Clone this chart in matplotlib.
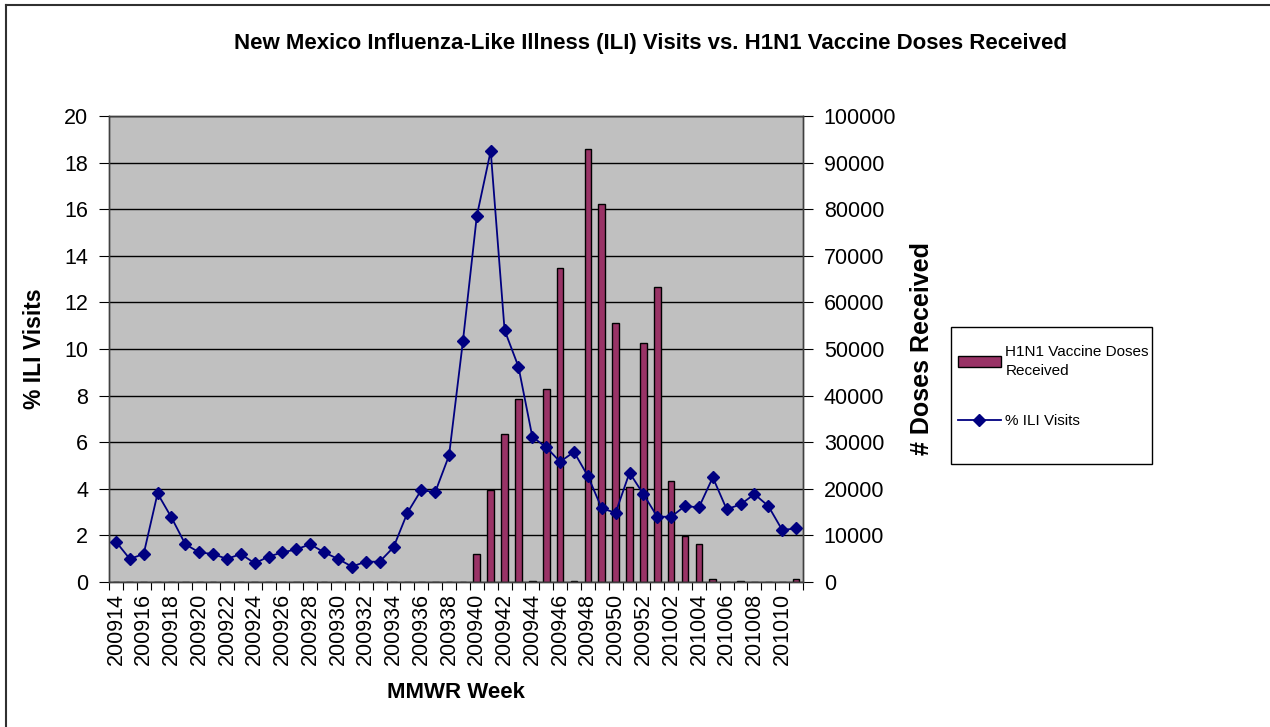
import numpy as np
import matplotlib
matplotlib.use("Agg")
import matplotlib.pyplot as plt
from matplotlib.lines import Line2D
from matplotlib.patches import Rectangle

plt.rcParams['font.family'] = ['Liberation Sans', 'DejaVu Sans']

weeks = [str(200900 + w) for w in range(14, 53)] + [str(201000 + w) for w in range(1, 12)]

ili = [1.73, 0.99, 1.20, 3.80, 2.77, 1.62, 1.27, 1.20, 0.99, 1.20,
       0.80, 1.09, 1.27, 1.40, 1.62, 1.27, 0.99, 0.66, 0.87, 0.87,
       1.49, 2.97, 3.95, 3.85, 5.43, 10.34, 15.71, 18.50, 10.81, 9.24,
       6.23, 5.78, 5.16, 5.58, 4.55, 3.16, 2.97, 4.69, 3.77, 2.80,
       2.80, 3.26, 3.20, 4.49, 3.12, 3.33, 3.77, 3.26, 2.23, 2.30]

doses = [0] * 26 + [6100, 19700, 31700, 39200, 300, 41500, 67300, 300, 92900, 81200,
                    55500, 20400, 51300, 63200, 21700, 9900, 8100, 600, 0, 300,
                    0, 0, 0, 600]

x = np.arange(len(weeks))

fig = plt.figure(figsize=(12.7, 7.27), dpi=100)
ax = fig.add_axes([0.0858, 0.1995, 0.5465, 0.6409])
ax2 = ax.twinx()

# bars on the right-hand scale (drawn underneath)
ax.set_facecolor('#c0c0c0')
ax.set_axisbelow(True)
bars = ax.bar(x, doses, width=0.48, color='#993366', edgecolor='black', linewidth=1,
              label='H1N1 Vaccine Doses\nReceived')
ax.set_ylim(0, 100000)
ax.set_yticks(np.arange(0, 100001, 10000))
ax.yaxis.tick_right()
ax.yaxis.set_label_position('right')
ax.grid(axis='y', color='black', linewidth=1)
ax.set_ylabel('# Doses Received', fontsize=18, fontweight='bold', labelpad=10)

# line on the left-hand scale
ax2.set_facecolor('none')
line, = ax2.plot(x, ili, color='#000080', marker='D', markersize=6, linewidth=1.3,
                 label='% ILI Visits')
ax2.set_ylim(0, 20)
ax2.set_yticks(np.arange(0, 21, 2))
ax2.yaxis.tick_left()
ax2.yaxis.set_label_position('left')
ax2.set_ylabel('% ILI Visits', fontsize=16.5, fontweight='bold', labelpad=13)

ax.set_xlim(-0.5, len(weeks) - 0.5)
ax.set_xticks(np.arange(-0.5, len(weeks), 1))
ax.set_xticklabels([])
ax.set_xticks(x[::2], minor=True)
ax.set_xticklabels(weeks[::2], minor=True, rotation=90, fontsize=15.5)
ax.tick_params(axis='x', which='major', length=6, direction='out', color='black')
ax.tick_params(axis='x', which='minor', length=0, pad=8)
ax.set_xlabel('MMWR Week', fontsize=16, fontweight='bold', labelpad=12)

ax.tick_params(axis='y', labelsize=15.5, length=7, pad=8)
ax2.tick_params(axis='y', labelsize=15.5, length=7, pad=8)

for a in (ax, ax2):
    for s in a.spines.values():
        s.set_color('#404040')
        s.set_linewidth(1)

fig.text(0.512, 0.94, 'New Mexico Influenza-Like Illness (ILI) Visits vs. H1N1 Vaccine Doses Received',
         ha='center', va='center', fontsize=16, fontweight='bold')

# legend box
fig.add_artist(Rectangle((951 / 1270, 1 - 464 / 727), 201 / 1270, 137 / 727,
                         transform=fig.transFigure, facecolor='white',
                         edgecolor='black', linewidth=1))
leg = fig.legend([bars, line], ['H1N1 Vaccine Doses\nReceived', '% ILI Visits'],
                 loc='upper left', bbox_to_anchor=(958 / 1270, 1 - 345 / 727),
                 frameon=False, fontsize=11, handlelength=2.8, handletextpad=0.3,
                 borderpad=0, labelspacing=2.35, borderaxespad=0)
leg.get_texts()[0].set_linespacing(1.45)

# outer chart border (top and left edges visible)
fig.add_artist(Line2D([6 / 1270, 1.0], [1 - 5 / 727] * 2, color='#303030', linewidth=1.5))
fig.add_artist(Line2D([6 / 1270] * 2, [0.0, 1 - 5 / 727], color='#303030', linewidth=1.5))

fig.savefig('out.png', dpi=100)
